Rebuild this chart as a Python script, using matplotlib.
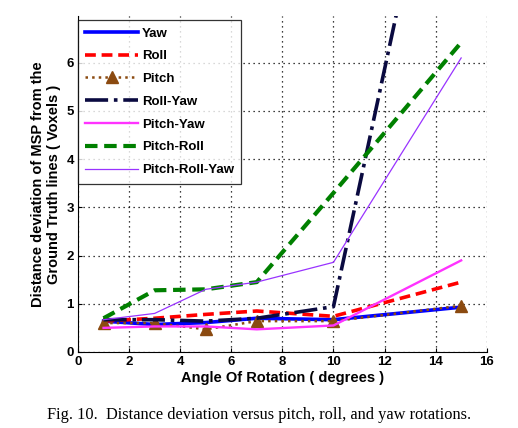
import numpy as np
import matplotlib.pyplot as plt

plt.rcParams['font.family'] = ['Liberation Sans Narrow', 'Liberation Sans', 'DejaVu Sans']

# rotation angles (degrees)
angles = [1, 3, 5, 7, 10, 15]

yaw = [0.64, 0.57, 0.61, 0.70, 0.67, 0.93]
roll = [0.64, 0.70, 0.78, 0.85, 0.74, 1.45]
pitch = [0.60, 0.60, 0.47, 0.64, 0.64, 0.96]
roll_yaw = [0.67, 0.67, 0.64, 0.70, 0.94, 13.25]
pitch_yaw = [0.50, 0.53, 0.53, 0.47, 0.55, 1.90]
pitch_roll = [0.70, 1.28, 1.30, 1.45, 3.30, 6.42]
pitch_roll_yaw = [0.67, 0.80, 1.30, 1.45, 1.86, 6.10]

xticks = np.arange(0, 17, 2)
yticks = np.arange(0, 7, 1)

fig = plt.figure(figsize=(5.18, 4.28), dpi=100)
ax = fig.add_axes([0.1506, 0.1776, 0.789, 0.785])

ax.plot(angles, yaw, color='#0000ff', lw=2.6, label='Yaw')
ax.plot(angles, roll, color='#ff0000', lw=2.6, ls=(0, (3, 1.6)), label='Roll')
ax.plot(angles, pitch, color='#8b4a10', lw=1.8, ls=':', marker='^', ms=8,
        label='Pitch')
ax.plot(angles, roll_yaw, color='#0a0a40', lw=2.6, ls='-.', label='Roll-Yaw')
ax.plot(angles, pitch_yaw, color='#ff33ff', lw=1.7, label='Pitch-Yaw')
ax.plot(angles, pitch_roll, color='#008000', lw=3.0, ls=(0, (3, 1.6)),
        label='Pitch-Roll')
ax.plot(angles, pitch_roll_yaw, color='#9933ff', lw=0.9, label='Pitch-Roll-Yaw')

ax.set_xlim(0, 16)
ax.set_ylim(0, 6.97)
ax.set_xticks(xticks)
ax.set_yticks(yticks)
ax.grid(True, ls=(0, (1, 3)), color='black', lw=0.9)
ax.spines['top'].set_visible(False)
ax.spines['right'].set_visible(False)
ax.tick_params(direction='in', length=3, labelsize=9.5, width=0.8, pad=3)
for lab in ax.get_xticklabels() + ax.get_yticklabels():
    lab.set_fontweight('bold')

ax.set_xlabel('Angle Of Rotation ( degrees )', fontsize=10.5, fontweight='bold',
              family=['Liberation Sans', 'DejaVu Sans'], labelpad=2)
ax.set_ylabel('Distance deviation of MSP from the\nGround Truth lines ( Voxels )',
              fontsize=10.5, fontweight='bold',
              family=['Liberation Sans', 'DejaVu Sans'], labelpad=4)

leg = ax.legend(loc='upper left', bbox_to_anchor=(0.0, 0.988),
                prop={'weight': 'bold', 'size': 9.5,
                      'family': ['Liberation Sans', 'DejaVu Sans']},
                frameon=True, fancybox=False,
                edgecolor='black', borderaxespad=0, handlelength=4.0,
                handletextpad=0.3, labelspacing=0.8, borderpad=0.55)
leg.get_frame().set_linewidth(0.9)

fig.text(0.5, 0.012, 'Fig. 10.  Distance deviation versus pitch, roll, and yaw rotations.',
         ha='center', va='bottom', fontsize=11.8, family='Liberation Serif')

fig.savefig('out.png', dpi=100)
